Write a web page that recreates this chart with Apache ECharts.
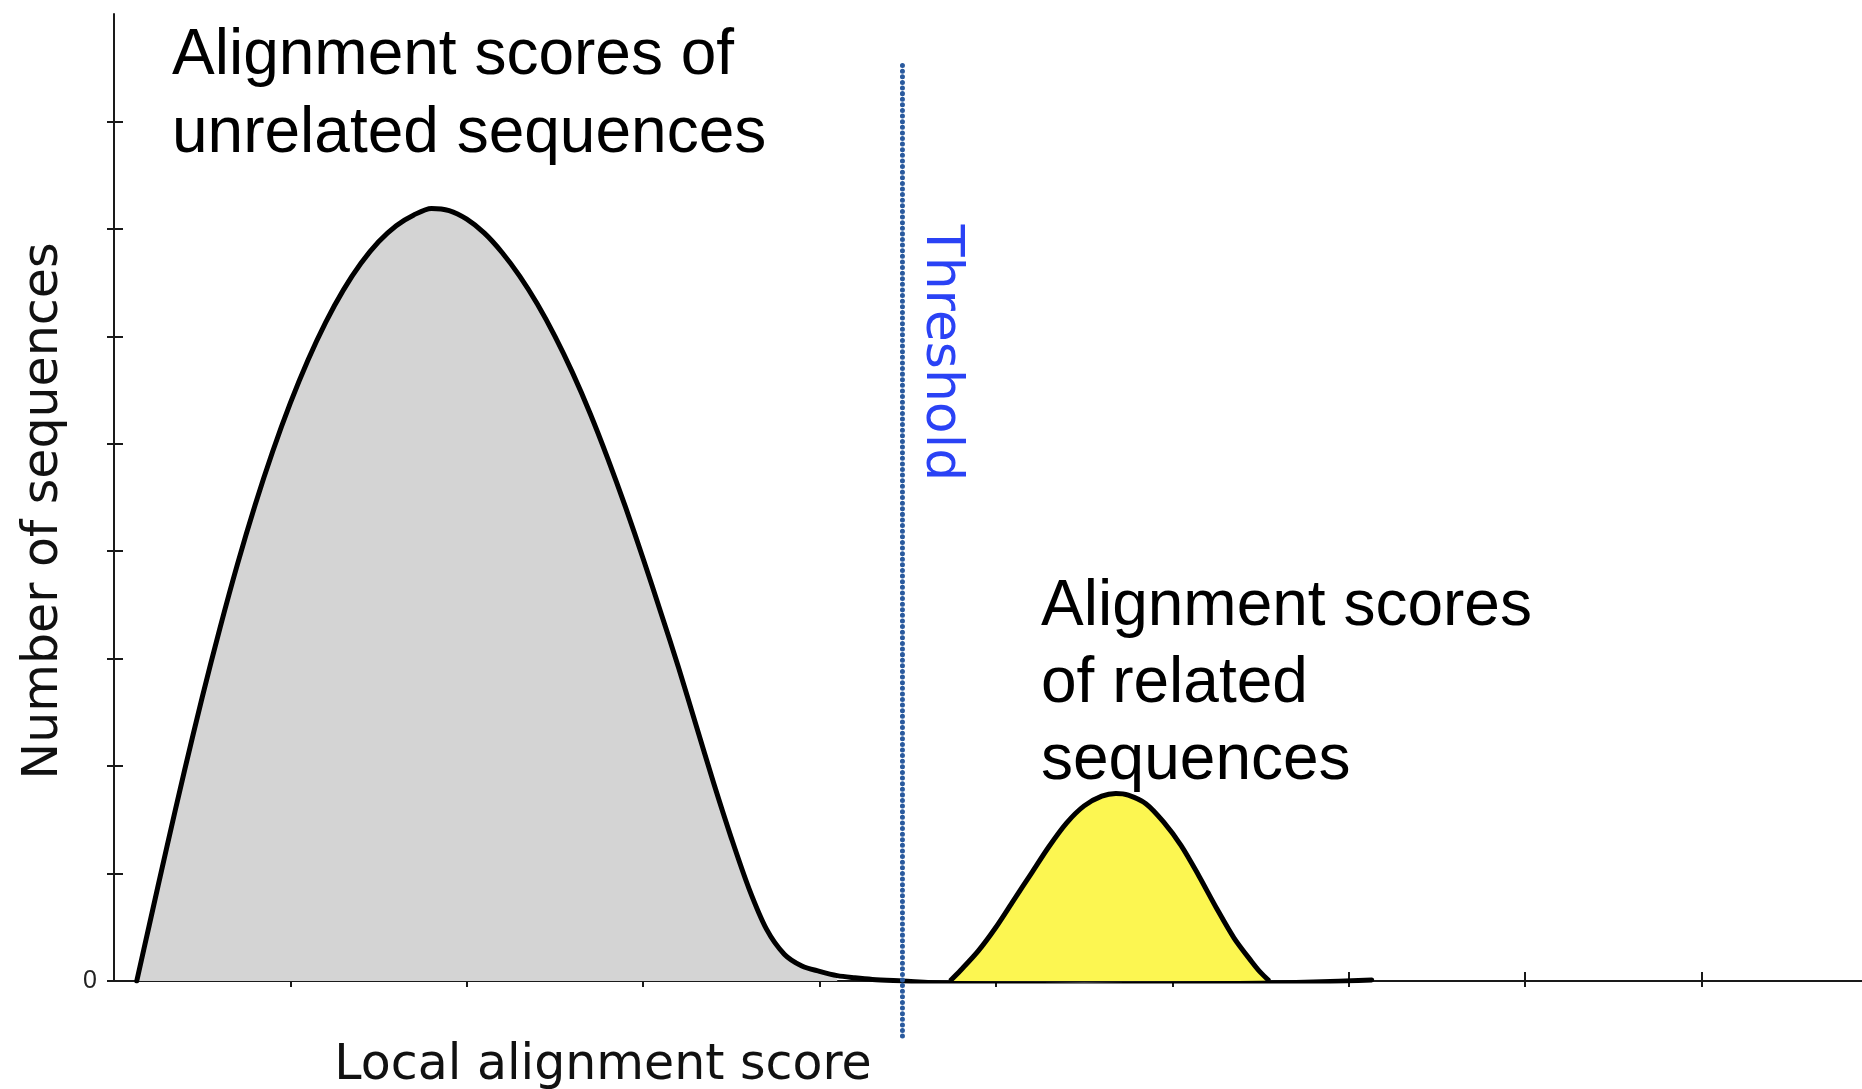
<!DOCTYPE html>
<html>
<head>
<meta charset="utf-8">
<title>Local alignment score distribution</title>
<script src="https://cdn.jsdelivr.net/npm/echarts@6/dist/echarts.min.js"></script>
<style>
  html, body { margin: 0; padding: 0; background: #ffffff; }
  #chart { width: 1862px; height: 1089px; }
</style>
</head>
<body>
<div id="chart"></div>
<script>
// Score distribution of unrelated sequences (score, number of sequences)
const unrelatedScore = [0.129, 0.2, 0.3, 0.4, 0.5, 0.6, 0.7, 0.8, 0.9, 1.0, 1.1, 1.2, 1.3, 1.4, 1.5, 1.6, 1.7, 1.8, 1.9, 2.0, 2.1, 2.2, 2.3, 2.4, 2.5, 2.6, 2.7, 2.8, 2.9, 3.0, 3.1, 3.2, 3.3, 3.4, 3.5, 3.6, 3.7, 3.8, 3.9, 4.0, 4.1, 4.2, 4.3, 4.47, 4.7, 5.0, 5.5, 6.0, 6.5, 6.8, 7.13];
const unrelatedCount = [0, 0.52, 1.25, 1.96, 2.64, 3.28, 3.88, 4.43, 4.93, 5.38, 5.78, 6.13, 6.43, 6.68, 6.88, 7.03, 7.13, 7.19, 7.17, 7.09, 6.96, 6.78, 6.56, 6.30, 6.00, 5.66, 5.28, 4.86, 4.41, 3.93, 3.43, 2.92, 2.38, 1.84, 1.33, 0.86, 0.48, 0.25, 0.14, 0.09, 0.05, 0.03, 0.015, 0.0, -0.02, -0.03, -0.035, -0.03, -0.02, -0.01, 0.01];
// Shaded part of the unrelated distribution ends here
const unrelatedShadeEnd = 4.15;

// Score distribution of related sequences
const relatedScore = [4.74, 4.8, 4.9, 5.0, 5.1, 5.2, 5.3, 5.4, 5.5, 5.6, 5.68, 5.75, 5.85, 5.95, 6.05, 6.15, 6.25, 6.35, 6.45, 6.5, 6.55];
const relatedCount = [0, 0.10, 0.28, 0.50, 0.75, 1.00, 1.25, 1.47, 1.63, 1.72, 1.745, 1.73, 1.65, 1.48, 1.26, 0.98, 0.68, 0.40, 0.18, 0.08, 0];

// Score cut-off separating the two populations
const thresholdScore = 4.47;

// Axis ticks
const xTickValues = [1, 2, 3, 4, 5, 6, 7, 8, 9];
const yTickValues = [0, 1, 2, 3, 4, 5, 6, 7, 8];
const yLabelValues = [0];

const pairs = (xs, ys) => xs.map((x, i) => [x, ys[i]]);
const unrelatedPoints = pairs(unrelatedScore, unrelatedCount);
const unrelatedShaded = unrelatedPoints.filter(p => p[0] <= unrelatedShadeEnd);
const relatedPoints = pairs(relatedScore, relatedCount);

const axisColor = '#1a1a1a';
const curveColor = '#000000';

const chart = echarts.init(document.getElementById('chart'), null, { renderer: 'canvas' });

const baseX = {
  type: 'value', min: 0, max: 9.91, position: 'bottom', offset: 0,
  splitLine: { show: false }
};
const baseY = {
  type: 'value', min: 0, max: 9, position: 'left', offset: 0,
  splitLine: { show: false }
};

chart.setOption({
  backgroundColor: '#ffffff',
  animation: false,
  grid: { left: 114, right: 0, top: 14, bottom: 108, containLabel: false },
  xAxis: [
    Object.assign({}, baseX, {
      axisLine: { show: true, onZero: false, lineStyle: { color: axisColor, width: 2 } },
      axisTick: { show: true, customValues: xTickValues, length: 6, lineStyle: { color: axisColor, width: 2 } },
      axisLabel: { show: false }
    }),
    Object.assign({}, baseX, {
      axisLine: { show: false },
      axisTick: { show: true, inside: true, customValues: xTickValues, length: 9, lineStyle: { color: axisColor, width: 2 } },
      axisLabel: { show: false }
    })
  ],
  yAxis: [
    Object.assign({}, baseY, {
      axisLine: { show: true, onZero: false, lineStyle: { color: axisColor, width: 2 } },
      axisTick: { show: true, customValues: yTickValues, length: 7, lineStyle: { color: axisColor, width: 2 } },
      axisLabel: {
        show: true, customValues: yLabelValues, margin: 17,
        fontFamily: 'Liberation Sans', fontSize: 25, color: '#222'
      }
    }),
    Object.assign({}, baseY, {
      axisLine: { show: false },
      axisTick: { show: true, inside: true, customValues: yTickValues, length: 9, lineStyle: { color: axisColor, width: 2 } },
      axisLabel: { show: false }
    })
  ],
  series: [
    {
      name: 'Unrelated (shaded)',
      type: 'line',
      data: unrelatedShaded,
      smooth: 0.3,
      symbol: 'none',
      lineStyle: { width: 0 },
      areaStyle: { color: '#d4d4d4', opacity: 1 },
      z: 1
    },
    {
      name: 'Related',
      type: 'line',
      data: relatedPoints,
      smooth: 0.3,
      symbol: 'none',
      lineStyle: { color: curveColor, width: 5, join: 'round' },
      areaStyle: { color: '#fcf651', opacity: 1 },
      z: 2
    },
    {
      name: 'Unrelated',
      type: 'line',
      data: unrelatedPoints,
      smooth: 0.3,
      symbol: 'none',
      lineStyle: { color: curveColor, width: 5, cap: 'round', join: 'round' },
      z: 3
    },
    {
      name: 'Threshold',
      type: 'line',
      data: [[thresholdScore, 8.52], [thresholdScore, -0.52]],
      symbol: 'none',
      clip: false,
      lineStyle: { color: '#2a5a9e', width: 5, type: [0.01, 5.6], cap: 'round' },
      z: 4
    }
  ],
  graphic: [
    {
      type: 'text', x: 172, y: 17,
      style: {
        text: 'Alignment scores of\nunrelated sequences',
        fontFamily: 'Liberation Sans', fontSize: 64, lineHeight: 78,
        fill: '#000', align: 'left', verticalAlign: 'top'
      }
    },
    {
      type: 'text', x: 1041, y: 569,
      style: {
        text: 'Alignment scores\nof related\nsequences',
        fontFamily: 'Liberation Sans', fontSize: 64, lineHeight: 77,
        fill: '#000', align: 'left', verticalAlign: 'top'
      }
    },
    {
      type: 'text', x: 941, y: 353, rotation: -Math.PI / 2,
      style: {
        text: 'Threshold',
        fontFamily: 'DejaVu Sans', fontSize: 52,
        fill: '#2a42f5', align: 'center', verticalAlign: 'middle'
      }
    },
    {
      type: 'text', x: 44, y: 511, rotation: Math.PI / 2,
      style: {
        text: 'Number of sequences',
        fontFamily: 'DejaVu Sans', fontSize: 49,
        fill: '#111', align: 'center', verticalAlign: 'middle'
      }
    },
    {
      type: 'text', x: 603, y: 1066,
      style: {
        text: 'Local alignment score',
        fontFamily: 'DejaVu Sans', fontSize: 49,
        fill: '#111', align: 'center', verticalAlign: 'middle'
      }
    }
  ]
});
</script>
</body>
</html>
